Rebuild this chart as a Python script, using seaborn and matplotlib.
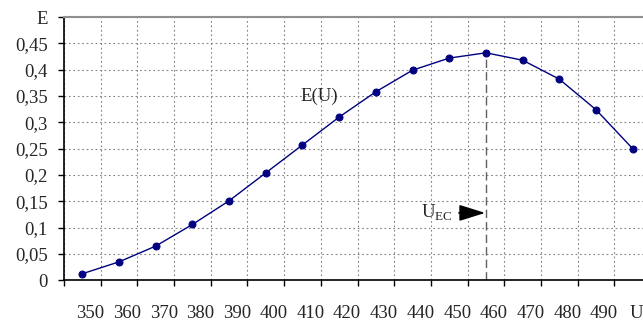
import matplotlib
matplotlib.use("Agg")
import matplotlib.pyplot as plt
import matplotlib.transforms as mtransforms
import seaborn as sns

# category labels on the x axis (last one is the axis name)
U_LABELS = ["350", "360", "370", "380", "390", "400", "410", "420",
            "430", "440", "450", "460", "470", "480", "490", "U"]
# E(U)
E_VALUES = [0.0125, 0.035, 0.065, 0.106, 0.151, 0.204, 0.257, 0.31,
            0.358, 0.399, 0.422, 0.432, 0.418, 0.382, 0.324, 0.25]
Y_TICKS = [0, 0.05, 0.1, 0.15, 0.2, 0.25, 0.3, 0.35, 0.4, 0.45, 0.5]
Y_LABELS = ["0", "0,05", "0,1", "0,15", "0,2", "0,25", "0,3", "0,35",
            "0,4", "0,45", "E"]
PEAK_INDEX = 11
FS = 13.5

sns.set_style("ticks")
plt.rcParams["font.family"] = ["Liberation Serif", "DejaVu Serif"]
plt.rcParams["mathtext.fontset"] = "custom"
plt.rcParams["mathtext.rm"] = "Liberation Serif"

fig = plt.figure(figsize=(6.43, 3.24), dpi=100)
ax = fig.add_axes([64 / 643, 43.7 / 324, 587 / 643, 263.3 / 324])

idx = list(range(len(U_LABELS)))
sns.lineplot(x=idx, y=E_VALUES, ax=ax, color="#000080", linewidth=1.0,
             marker="o", markersize=5, markeredgecolor="#000080", sort=False)

ax.set_xlim(-0.5, len(U_LABELS) - 0.5)
ax.set_ylim(0, 0.5)

# category boundaries carry tick marks and grid, labels sit at centres
ax.set_xticks([i - 0.5 for i in idx] + [len(idx) - 0.5])
ax.set_xticklabels([])
ax.set_xticks(idx, minor=True)
ax.set_xticklabels(U_LABELS, minor=True)
ax.tick_params(axis="x", which="minor", length=0, pad=18, labelsize=FS)
ax.tick_params(axis="x", which="major", length=4.5, width=1, direction="out", color="black")
minor_labels = ax.xaxis.get_minorticklabels()
for i, lab in enumerate(minor_labels):
    shift = 8 if i < len(minor_labels) - 1 else 4
    offset = mtransforms.ScaledTranslation(shift / 100, 0, fig.dpi_scale_trans)
    lab.set_transform(lab.get_transform() + offset)

ax.set_yticks(Y_TICKS)
ax.set_yticklabels(Y_LABELS)
ax.tick_params(axis="y", length=4.5, width=1, direction="out", color="black", labelsize=FS, pad=7)

ax.grid(True, which="major", color="#808080", linestyle=(0, (1.5, 2.5)), linewidth=0.8)
ax.set_axisbelow(True)

for side in ["left", "bottom"]:
    ax.spines[side].set_color("black")
    ax.spines[side].set_linewidth(1.2)
for side in ["top", "right"]:
    ax.spines[side].set_visible(True)
    ax.spines[side].set_color("#909090")
    ax.spines[side].set_linewidth(1.5)

ax.vlines(PEAK_INDEX, 0, E_VALUES[PEAK_INDEX], color="#606060",
          linestyle=(0, (6, 3)), linewidth=1.0, zorder=1)

ax.text(6.45, 0.349, "E(U)", ha="center", va="center", fontsize=FS)
ax.annotate("U$_{\\mathregular{EC}}$", xy=(PEAK_INDEX - 0.02, 0.128),
            xytext=(10.1, 0.128), ha="right", va="center", fontsize=FS,
            arrowprops=dict(arrowstyle="-|>,head_length=1.6,head_width=0.5",
                            mutation_scale=10, color="black", lw=1.2,
                            shrinkA=2, shrinkB=0))

ax.set_xlabel("")
ax.set_ylabel("")
fig.savefig("out.png", dpi=100)
